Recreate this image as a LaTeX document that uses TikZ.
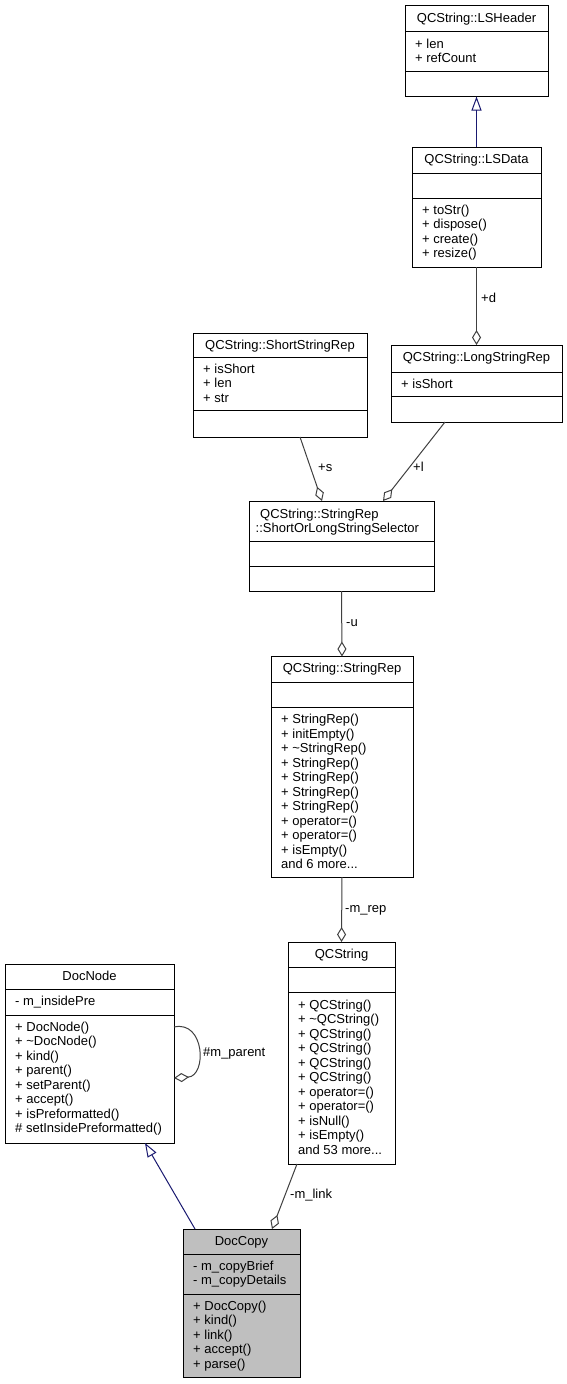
\documentclass[tikz,border=0pt]{standalone}
\usepackage{fontspec}
\setmainfont{Liberation Sans}
\usetikzlibrary{arrows.meta,calc}
\definecolor{edgegray}{HTML}{404040}
\definecolor{inhnavy}{HTML}{191970}
\definecolor{hilite}{HTML}{BFBFBF}
\tikzset{
  cls/.style={draw=black, line width=1pt, inner sep=0pt, outer sep=0pt, anchor=north west},
  sepline/.style={draw=black, line width=1pt},
  mtxt/.style={inner sep=0pt, anchor=base west, font=\fontsize{13}{15}\selectfont},
  ttxt/.style={inner sep=0pt, anchor=base, font=\fontsize{13}{15}\selectfont},
  agg/.style={draw=edgegray, line width=1pt, -{Diamond[open, length=15pt, width=9pt]}},
  inh/.style={draw=inhnavy, line width=1pt, -{Triangle[open, length=14pt, width=10pt]}},
  elabel/.style={mtxt},
}
\newcommand\mydots{...}
\newcommand\umlclass[9]{%
  \node[cls, fill=#8, minimum width={(#4-#2)*1pt}, minimum height={(#7-#3)*1pt}] (#1) at (#2,#3) {};
  \draw[sepline] (#2,#5) -- (#4,#5);
  \draw[sepline] (#2,#6) -- (#4,#6);
  \ifx\relax#9\relax\else\node[ttxt] (#1-title) at ({(#2+#4)/2},{#3+16.3}) {#9};\fi
}
\newcommand\members[4]{%
  \foreach \t [count=\i] in {#4} {\node[mtxt] (#1-\i) at (#2,{#3+(\i-1)*14.5}) {\t};}%
}
\begin{document}
\begin{tikzpicture}[x=1pt, y=-1pt]
\useasboundingbox (0,0) rectangle (567,1384);
\fill[white] (0,0) rectangle (567,1384);

\umlclass{lsheader}{405}{5.7}{548}{31.7}{71}{96.5}{white}{QCString::LSHeader}
\members{lsheader-a}{415}{48}{+ len, + refCount}

\umlclass{lsdata}{412}{147}{541}{173}{198}{267}{white}{QCString::LSData}
\members{lsdata-m}{422}{214}{+ toStr(), + dispose(), + create(), + resize()}

\umlclass{shortrep}{193}{333}{367}{357}{410}{437}{white}{QCString::ShortStringRep}
\members{shortrep-a}{203}{373}{+ isShort, + len, + str}

\umlclass{longrep}{391}{345}{562}{372}{396}{422}{white}{QCString::LongStringRep}
\members{longrep-a}{401}{388}{+ isShort}

\umlclass{selector}{249}{501}{434}{541}{566}{591}{white}{}
\node[mtxt] (selector-t1) at (260,518.3) {QCString::StringRep};
\node[mtxt] (selector-t2) at (255.5,532.5) {::ShortOrLongStringSelector};

\umlclass{stringrep}{271}{656.5}{413}{682}{707}{877}{white}{QCString::StringRep}
\members{stringrep-m}{281}{723.5}{+ StringRep(), + initEmpty(), + \textasciitilde StringRep(), + StringRep(), + StringRep(), + StringRep(), + StringRep(), + operator=(), + operator=(), + isEmpty(), and 6 more\mydots}

\umlclass{qcstring}{288}{942}{395}{967}{992.5}{1164}{white}{QCString}
\members{qcstring-m}{298}{1009}{+ QCString(), + \textasciitilde QCString(), + QCString(), + QCString(), + QCString(), + QCString(), + operator=(), + operator=(), + isNull(), + isEmpty(), and 53 more\mydots}

\umlclass{docnode}{5}{964}{174}{989}{1015}{1143}{white}{DocNode}
\members{docnode-a}{15}{1005.5}{- m\_insidePre}
\members{docnode-m}{15}{1031}{+ DocNode(), + \textasciitilde DocNode(), + kind(), + parent(), + setParent(), + accept(), + isPreformatted(), \# setInsidePreformatted()}

\umlclass{doccopy}{183}{1229}{300}{1254}{1294}{1377}{hilite}{DocCopy}
\members{doccopy-a}{193}{1270}{- m\_copyBrief, - m\_copyDetails}
\members{doccopy-m}{193}{1310}{+ DocCopy(), + kind(), + link(), + accept(), + parse()}

% connectors
\draw[inh] (lsdata.north) -- (lsheader.south);
\draw[agg] (lsdata.south) -- (longrep.north);
\node[elabel] (lbl-d) at (481,302) {+d};
\draw[agg] ([xshift=20pt]shortrep.south) -- ([xshift=-19.5pt]selector.north);
\node[elabel] (lbl-s) at (318,471.7) {+s};
\draw[agg] ([xshift=-31.5pt]longrep.south) -- ([xshift=41.5pt]selector.north);
\node[elabel] (lbl-l) at (413,471.7) {+l};
\draw[agg] (selector.south) -- (stringrep.north);
\node[elabel] (lbl-u) at (346,626) {-u};
\draw[agg] (stringrep.south) -- (qcstring.north);
\node[elabel] (lbl-rep) at (345,912.5) {-m\_rep};
\draw[agg] ($(docnode.east)+(0,-26.5)$) .. controls (205,1020) and (207,1076) .. ($(docnode.east)+(0,24.5)$);
\node[elabel] (lbl-parent) at (203,1056.7) {\#m\_parent};
\draw[inh] ([xshift=-46.5pt]doccopy.north) -- ([xshift=55.5pt]docnode.south);
\draw[agg] ([xshift=-44.5pt]qcstring.south) -- ([xshift=30.5pt]doccopy.north);
\node[elabel] (lbl-link) at (290,1198) {-m\_link};
\end{tikzpicture}
\end{document}
